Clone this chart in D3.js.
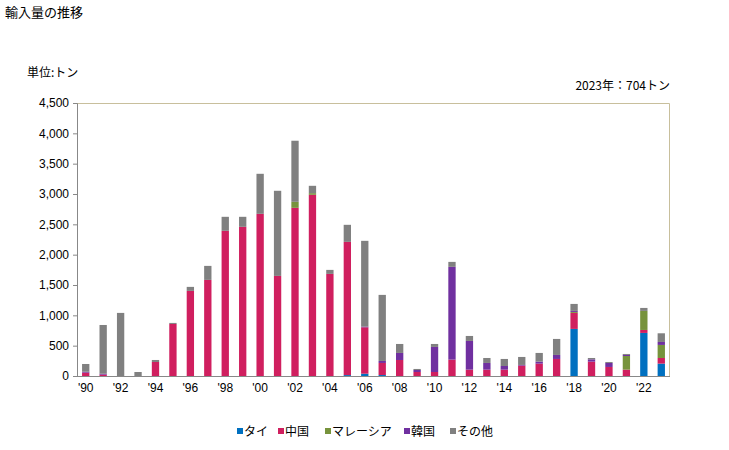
<!DOCTYPE html>
<html>
<head>
<meta charset="utf-8">
<script src="https://cdn.jsdelivr.net/npm/d3@7"></script>
<style>
  body { margin: 0; background: #fff; }
  text { font-family: "Liberation Sans", Arial, sans-serif; }
  .jp { font-family: "Noto Sans CJK JP", sans-serif; }
</style>
</head>
<body>
<div id="chart"></div>
<script>
var years = d3.range(1990, 2024);
var seriesNames = ["タイ", "中国", "マレーシア", "韓国", "その他"];
var seriesColors = ["#0070c0", "#d01f5f", "#77933c", "#7030a0", "#808080"];

// values per year, 1990..2023
var thai     = [0,0,0,0,0,0,0,0,0,0,0,0,0,0,0,15,38,16,0,0,0,0,0,0,0,0,0,0,776,0,0,0,710,204];
var china    = [55,22,0,0,231,858,1403,1584,2393,2459,2673,1650,2772,2987,1683,2196,765,199,264,66,66,270,105,105,105,171,204,281,264,237,149,105,49,93];
var malaysia = [0,0,0,0,0,0,0,0,0,0,0,0,99,27,0,0,0,0,0,0,0,0,0,0,0,0,0,0,16,0,0,225,314,215];
var korea    = [15,15,0,0,0,0,0,0,0,0,0,0,0,0,0,0,11,33,116,33,413,1529,473,110,60,11,33,66,17,38,66,17,0,49];
var other    = [128,804,1040,66,33,17,66,231,231,165,660,1403,1007,121,66,281,1414,1089,148,17,49,82,82,82,116,132,143,264,115,22,16,16,49,143];
var yTicks = [0,500,1000,1500,2000,2500,3000,3500,4000,4500];

var W = 729, H = 450;
var margin = {top: 103, right: 59, bottom: 74, left: 77};
var width = W - margin.left - margin.right,
    height = H - margin.top - margin.bottom;

var table = years.map(function(y, i) {
    return {year: y, "タイ": thai[i], "中国": china[i], "マレーシア": malaysia[i], "韓国": korea[i], "その他": other[i]};
});

var svg = d3.select("#chart").append("svg")
    .attr("width", W)
    .attr("height", H);

svg.append("text").attr("class", "jp")
    .attr("x", 5).attr("y", 17)
    .attr("font-size", "13px")
    .text("輸入量の推移");

svg.append("text").attr("class", "jp")
    .attr("x", 27).attr("y", 77)
    .attr("font-size", "12px")
    .text("単位:トン");

svg.append("text").attr("class", "jp")
    .attr("x", 670).attr("y", 90)
    .attr("text-anchor", "end")
    .attr("font-size", "12px")
    .text("2023年：704トン");

var g = svg.append("g")
    .attr("transform", "translate(" + margin.left + "," + margin.top + ")");

var x = d3.scaleBand()
    .domain(years)
    .range([0, width])
    .paddingInner(0.58)
    .paddingOuter(0.29);

var y = d3.scaleLinear()
    .domain([0, 4500])
    .range([height, 0]);

// frame (top and right)
g.append("path")
    .attr("d", "M0,0.5H" + (width - 0.5) + "V" + height)
    .attr("fill", "none")
    .attr("stroke", "#c8bf9c");

var stack = d3.stack().keys(seriesNames);
var layers = stack(table);

g.selectAll(".layer")
    .data(layers)
    .enter().append("g")
    .attr("class", "layer")
    .attr("fill", function(d, i) { return seriesColors[i]; })
    .selectAll("rect")
    .data(function(d) { return d; })
    .enter().append("rect")
    .attr("x", function(d) { return x(d.data.year); })
    .attr("width", x.bandwidth())
    .attr("y", function(d) { return y(d[1]); })
    .attr("height", function(d) { return y(d[0]) - y(d[1]); });

var yAxis = g.append("g")
    .call(d3.axisLeft(y).tickValues(yTicks).tickSize(4).tickFormat(d3.format(",")));
yAxis.select(".domain").attr("stroke", "#888");
yAxis.selectAll(".tick line").attr("stroke", "#888");
yAxis.selectAll("text").attr("font-size", "12px").attr("fill", "#000").attr("x", -8);

var xAxis = g.append("g")
    .attr("transform", "translate(0," + height + ")")
    .call(d3.axisBottom(x)
        .tickValues(years.filter(function(d) { return d % 2 === 0; }))
        .tickSize(0)
        .tickFormat(function(d) { return "'" + String(d).slice(2); }));
xAxis.select(".domain").attr("stroke", "#888").attr("d", "M0,0.5H" + width);
xAxis.selectAll("text").attr("font-size", "12px").attr("fill", "#000").attr("dy", "1.05em");

// legend
var legendX = [237, 278, 325, 404, 450];
var legend = svg.append("g").selectAll("g")
    .data(seriesNames)
    .enter().append("g")
    .attr("transform", function(d, i) { return "translate(" + legendX[i] + ",434)"; });
legend.append("rect")
    .attr("y", -6)
    .attr("width", 6).attr("height", 6)
    .attr("fill", function(d, i) { return seriesColors[i]; });
legend.append("text").attr("class", "jp")
    .attr("x", 7).attr("y", 0)
    .attr("dy", "0.2em")
    .attr("font-size", "12px")
    .text(function(d) { return d; });
</script>
</body>
</html>
